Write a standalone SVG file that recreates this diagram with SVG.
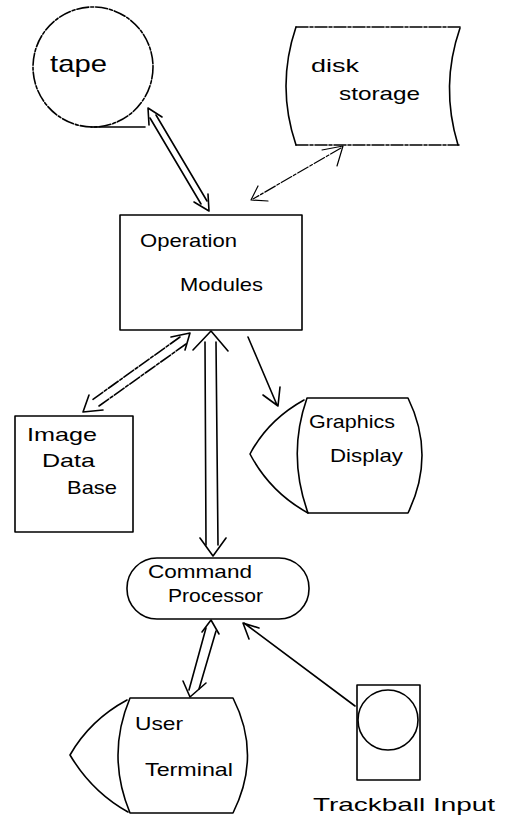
<svg xmlns="http://www.w3.org/2000/svg" width="513" height="821" viewBox="0 0 513 821">
  <style>
    .ln { fill: none; stroke: #000; stroke-width: 1.6; stroke-linecap: round; stroke-linejoin: round; }
    .dash { stroke-dasharray: 12 2 3 2; }
    .thin { stroke-width: 1.2; }
    .lbl { font-family: "Liberation Sans", "DejaVu Sans", sans-serif; font-size: 19px; fill: #000; }
    .big { font-size: 24px; }
  </style>
  <rect width="513" height="821" fill="#fff"/>

  <g id="tape">
    <circle class="ln dash" cx="93" cy="67" r="60"/>
    <path class="ln" d="M91 127 H145" stroke-width="2"/>
    <text class="lbl big" x="50" y="72" textLength="57" lengthAdjust="spacingAndGlyphs">tape</text>
  </g>

  <g id="disk-storage">
    <path class="ln dash" d="M296 27 H460 M296 145 H459"/>
    <path class="ln" d="M296 27 Q276 86 296 145 M460 28 Q440 86 458 145"/>
    <text class="lbl" x="311" y="72" textLength="48" lengthAdjust="spacingAndGlyphs">disk</text>
    <text class="lbl" x="339" y="100" textLength="81" lengthAdjust="spacingAndGlyphs">storage</text>
  </g>

  <g id="operation-modules">
    <rect class="ln" x="120" y="215" width="182" height="115"/>
    <text class="lbl" x="140" y="247" textLength="97" lengthAdjust="spacingAndGlyphs">Operation</text>
    <text class="lbl" x="180" y="291" textLength="83" lengthAdjust="spacingAndGlyphs">Modules</text>
  </g>

  <g id="image-data-base">
    <rect class="ln" x="15" y="416" width="118" height="116"/>
    <text class="lbl" x="27" y="441" textLength="70" lengthAdjust="spacingAndGlyphs">Image</text>
    <text class="lbl" x="42" y="467" textLength="53" lengthAdjust="spacingAndGlyphs">Data</text>
    <text class="lbl" x="67" y="494" textLength="50" lengthAdjust="spacingAndGlyphs">Base</text>
  </g>

  <g id="graphics-display">
    <path class="ln" d="M307 398 H408 Q436 455 408 513 H308 Q287 455 307 398 Z"/>
    <path class="ln" d="M304 400 Q268 420 250 454 Q270 492 308 513"/>
    <text class="lbl" x="309" y="428" textLength="86" lengthAdjust="spacingAndGlyphs">Graphics</text>
    <text class="lbl" x="330" y="462" textLength="73" lengthAdjust="spacingAndGlyphs">Display</text>
  </g>

  <g id="command-processor">
    <rect class="ln" x="127" y="558" width="182" height="61" rx="30" ry="30"/>
    <text class="lbl" x="148" y="578" textLength="104" lengthAdjust="spacingAndGlyphs">Command</text>
    <text class="lbl" x="168" y="602" textLength="95" lengthAdjust="spacingAndGlyphs">Processor</text>
  </g>

  <g id="user-terminal">
    <path class="ln" d="M130 698 H233 Q262 755 233 813 H130 Q106 755 130 698 Z"/>
    <path class="ln" d="M127 700 Q90 720 70 755 Q92 792 128 812"/>
    <text class="lbl" x="135" y="730" textLength="48" lengthAdjust="spacingAndGlyphs">User</text>
    <text class="lbl" x="145" y="776" textLength="88" lengthAdjust="spacingAndGlyphs">Terminal</text>
  </g>

  <g id="trackball-input">
    <rect class="ln" x="357" y="685" width="63" height="95"/>
    <circle class="ln" cx="388" cy="720" r="30"/>
    <text class="lbl" x="313" y="811" font-size="23" textLength="182" lengthAdjust="spacingAndGlyphs">Trackball Input</text>
  </g>

  <g id="connectors">
    <!-- tape <-> operation modules (hollow double arrow) -->
    <path class="ln" d="M149 125 L148 108 L162 117 M194 202 L209 211 L208 194"/>
    <path class="ln" d="M150 118 L201 204 M156 115 L207 201"/>

    <!-- disk storage <-> operation modules -->
    <path class="ln thin dash" d="M341 148 L253 199"/>
    <path class="ln thin" d="M322 150 L343 146 L337 166 M258 186 L251 200 L268 201"/>

    <!-- operation modules <-> command processor -->
    <path class="ln" d="M193 350 L211 331 L228 351 M200 538 L213 556 L226 538"/>
    <path class="ln" d="M205 342 L206 545 M216 342 L218 545"/>

    <!-- operation modules <-> image data base (dashed double arrow) -->
    <path class="ln" d="M171 337 L190 333 L185 350 M89 395 L83 412 L103 410"/>
    <path class="ln dash" d="M180 337 L92 400 M186 344 L99 406"/>

    <!-- operation modules -> graphics display -->
    <path class="ln" d="M248 337 L277 405 M263 395 L278 406 L280 387"/>

    <!-- command processor <-> user terminal (hollow double arrow) -->
    <path class="ln" d="M202 632 L211 620 L219 634 M183 681 L190 697 L206 683"/>
    <path class="ln" d="M206 628 L189 690 M216 631 L199 689"/>

    <!-- trackball -> command processor -->
    <path class="ln" d="M355 706 L244 623 M259 628 L243 623 L249 639"/>
  </g>
</svg>
